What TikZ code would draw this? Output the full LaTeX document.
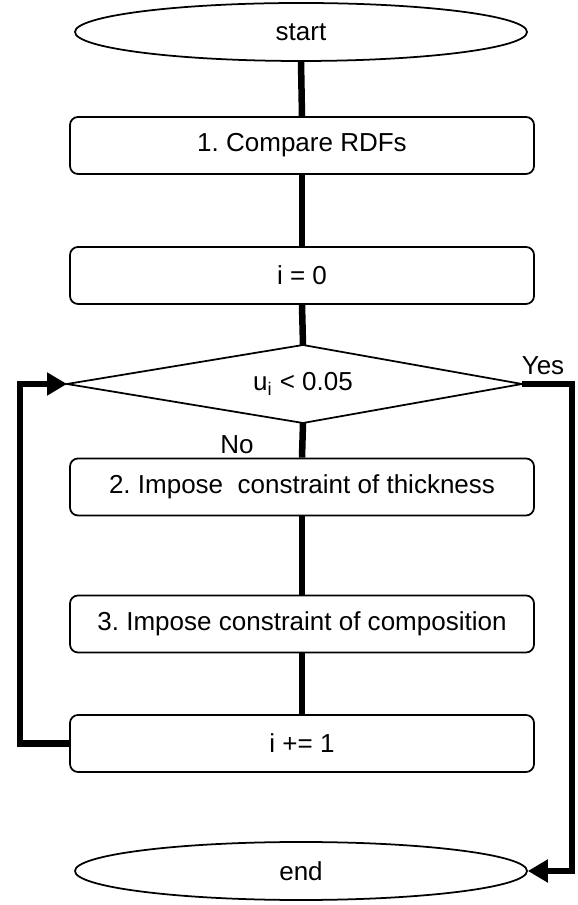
\documentclass[tikz,border=0pt]{standalone}
\usepackage{fontspec}
\setmainfont{Liberation Sans}
\usetikzlibrary{arrows.meta, shapes.geometric}
\frenchspacing

\begin{document}
\begin{tikzpicture}[>={Triangle[length=0.4cm, width=0.44cm]},
  every node/.style={font=\fontsize{14.8}{17.8}\selectfont},
  term/.style={draw, line width=1pt, ellipse, minimum width=9.04cm, minimum height=1.16cm, inner sep=0pt},
  proc/.style={draw, line width=1pt, rounded corners=0.16cm, minimum width=9.28cm, minimum height=1.14cm, inner sep=0pt},
  flow/.style={line width=0.13cm}]
  \useasboundingbox (0,0) rectangle (11.54,18.10);
  % Steps down the middle
  \node[term] (start) at (6.02,17.46) {start};
  \node[proc] (cmp) at (6.04,15.19) {1. Compare RDFs};
  \node[proc] (init) at (6.04,12.59) {i = 0};
  \node[proc] (thick) at (6.04,8.36) {2. Impose\ \ constraint of thickness};
  \node[proc] (comp) at (6.04,5.62) {3. Impose constraint of composition};
  \node[proc] (incr) at (6.04,3.23) {i += 1};
  \node[term] (stop) at (6.02,0.68) {end};
  % Decision
  \coordinate (dtop) at (6.06,11.20);
  \coordinate (dbot) at (6.06,9.64);
  \coordinate (dleft) at (1.34,10.42);
  \coordinate (dright) at (10.44,10.42);
  \draw[line width=1pt] (dtop) -- (dright) -- (dbot) -- (dleft) -- cycle;
  \node (test) at (6.06,10.42) {u\textsubscript{i} < 0.05};
  \node (yes) at (10.86,10.78) {Yes};
  \node (no) at (4.74,9.20) {No};
  % Side rails
  \coordinate (lrail) at (0.40,0);
  \coordinate (rrail) at (11.44,0);
  % Connectors
  \draw[flow] (start.south) -- (cmp.north);
  \draw[flow] (cmp.south) -- (init.north);
  \draw[flow] (init.south) -- (dtop);
  \draw[flow] (dbot) -- (thick.north);
  \draw[flow] (thick.south) -- (comp.north);
  \draw[flow] (comp.south) -- (incr.north);
  \draw[flow, ->] (incr.west) -- (incr.west -| lrail) |- (dleft);
  \draw[flow, ->] (dright) -- (dright -| rrail) |- (stop.east);
\end{tikzpicture}
\end{document}
